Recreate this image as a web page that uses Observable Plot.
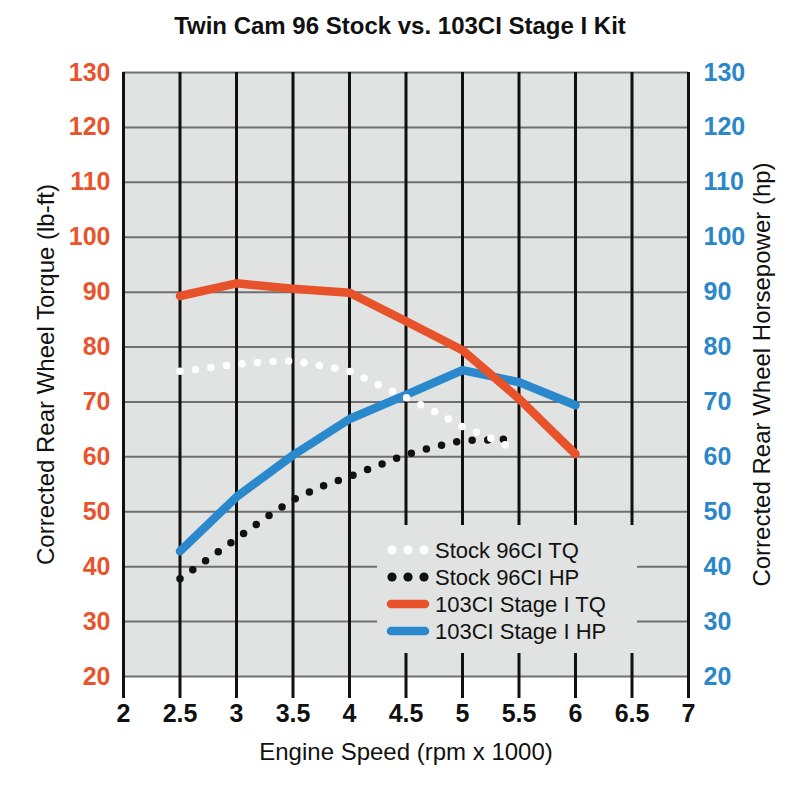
<!DOCTYPE html>
<html>
<head>
<meta charset="utf-8">
<script src="https://cdn.jsdelivr.net/npm/d3@7"></script>
<script src="https://cdn.jsdelivr.net/npm/@observablehq/plot@0.6"></script>
<style>
  html, body { margin: 0; padding: 0; background: #fff; }
  #wrap { position: relative; width: 800px; height: 786px; font-family: "Liberation Sans", Arial, sans-serif; }
  #title { position: absolute; left: 0; top: 12px; width: 800px; height: 28px; line-height: 28px; text-align: center; font-weight: bold; font-size: 24px; color: #111; }
  #chart { position: absolute; left: 0; top: 52px; }
  #legend { position: absolute; left: 377px; top: 525px; width: 260px; height: 128px; background: #e1e2e2; }
</style>
</head>
<body>
<div id="wrap">
  <div id="title">Twin Cam 96 Stock vs. 103CI Stage I Kit</div>
  <div id="chart"></div>
  <div id="legend"></div>
</div>
<script>
// ---- data ----
const rpm103 = [2.5, 3, 3.5, 4, 4.5, 5, 5.5, 6];
const tq103 = [89.3, 91.6, 90.6, 89.9, 84.7, 79.4, 70.6, 60.5];
const hp103 = [42.8, 52.7, 60.3, 66.9, 71.3, 75.8, 73.6, 69.4];

const rpmStockTQ = [2.5, 2.75, 3, 3.25, 3.5, 3.75, 4, 4.25, 4.5, 4.75, 5, 5.25, 5.42];
const tqStock = [75.6, 76.2, 76.9, 77.3, 77.5, 76.6, 75.6, 73.2, 70.8, 68.3, 65.5, 63.4, 61.8];
const rpmStockHP = [2.5, 2.75, 3, 3.25, 3.5, 3.75, 4, 4.25, 4.5, 4.75, 5, 5.25, 5.43];
const hpStock = [37.8, 41.4, 45.1, 48.8, 52.2, 54.6, 56.4, 58.4, 60.4, 61.8, 63.0, 63.1, 63.3];

const xTicks = [2, 2.5, 3, 3.5, 4, 4.5, 5, 5.5, 6, 6.5, 7];
const yTicks = [20, 30, 40, 50, 60, 70, 80, 90, 100, 110, 120, 130];

const seriesNames = ["Stock 96CI TQ", "Stock 96CI HP", "103CI Stage I TQ", "103CI Stage I HP"];
const seriesColors = ["#ffffff", "#111111", "#e8522a", "#2a88cc"];

const xTitle = "Engine Speed (rpm x 1000)";
const yLeftTitle = "Corrected Rear Wheel Torque (lb-ft)";
const yRightTitle = "Corrected Rear Wheel Horsepower (hp)";

// ---- tables built from arrays ----
const toRows = (xs, ys) => xs.map((x, i) => ({x, y: ys[i]}));
const dTQ103 = toRows(rpm103, tq103);
const dHP103 = toRows(rpm103, hp103);
const dTQs = toRows(rpmStockTQ, tqStock);
const dHPs = toRows(rpmStockHP, hpStock);

const chart = Plot.plot({
  width: 800,
  height: 734,
  marginTop: 20,
  marginBottom: 110,
  marginLeft: 123,
  marginRight: 112,
  style: {fontFamily: "Liberation Sans, Arial, sans-serif", background: "transparent"},
  x: {domain: [2, 7], ticks: xTicks, label: null},
  y: {domain: [20, 130], ticks: yTicks, label: null},
  marks: [
    Plot.frame({fill: "#e1e2e2", stroke: null}),
    Plot.ruleY(yTicks, {stroke: "#707070", strokeWidth: 2}),
    Plot.ruleX(xTicks, {stroke: "#111", strokeWidth: 3}),
    Plot.axisX({ticks: xTicks, tickSize: 22, tickPadding: 6, strokeWidth: 3, color: "#111",
      tickFormat: d => String(d), fontSize: 25, fontWeight: "bold", label: null}),
    Plot.axisY({anchor: "left", ticks: yTicks, tickSize: 0, tickPadding: 13, color: "#e8552d",
      tickFormat: d => String(d), fontSize: 25, fontWeight: "bold", label: null}),
    Plot.axisY({anchor: "right", ticks: yTicks, tickSize: 0, tickPadding: 15, color: "#2a88c8",
      tickFormat: d => String(d), fontSize: 25, fontWeight: "bold", label: null}),
    Plot.line(dHP103, {x: "x", y: "y", stroke: seriesColors[3], strokeWidth: 8.5, strokeLinecap: "round"}),
    Plot.line(dTQ103, {x: "x", y: "y", stroke: seriesColors[2], strokeWidth: 8.5, strokeLinecap: "round"}),
    Plot.line(dHPs, {x: "x", y: "y", stroke: seriesColors[1], strokeWidth: 7.5, strokeDasharray: "0 15.6", strokeLinecap: "round"}),
    Plot.line(dTQs, {x: "x", y: "y", stroke: seriesColors[0], strokeWidth: 7.5, strokeDasharray: "0 15.6", strokeLinecap: "round"}),
    Plot.text([xTitle], {frameAnchor: "bottom", dy: 76, fontSize: 24, fill: "#111", textAnchor: "middle", lineAnchor: "middle"}),
    Plot.text([yLeftTitle], {frameAnchor: "left", dx: -77, rotate: -90, fontSize: 24, fill: "#111", textAnchor: "middle", lineAnchor: "middle"}),
    Plot.text([yRightTitle], {frameAnchor: "right", dx: 74, rotate: -90, fontSize: 24, fill: "#111", textAnchor: "middle", lineAnchor: "middle"})
  ]
});
document.getElementById("chart").appendChild(chart);

// ---- legend ----
const lg = d3.select("#legend").append("svg").attr("width", 260).attr("height", 128)
  .style("font-family", "Liberation Sans, Arial, sans-serif");
const rowY = i => 25 + i * 27;
seriesNames.forEach((name, i) => {
  const g = lg.append("g").attr("transform", `translate(0,${rowY(i)})`);
  if (i < 2) {
    [15, 31, 47].forEach(cx => g.append("circle").attr("cx", cx).attr("cy", 0).attr("r", 4.6).attr("fill", seriesColors[i]));
  } else {
    g.append("line").attr("x1", 14).attr("x2", 48).attr("y1", 0).attr("y2", 0)
      .attr("stroke", seriesColors[i]).attr("stroke-width", 8.5).attr("stroke-linecap", "round");
  }
  g.append("text").attr("x", 58).attr("y", 0).attr("dy", "0.35em").attr("font-size", 22).attr("fill", "#111").text(name);
});
</script>
</body>
</html>
